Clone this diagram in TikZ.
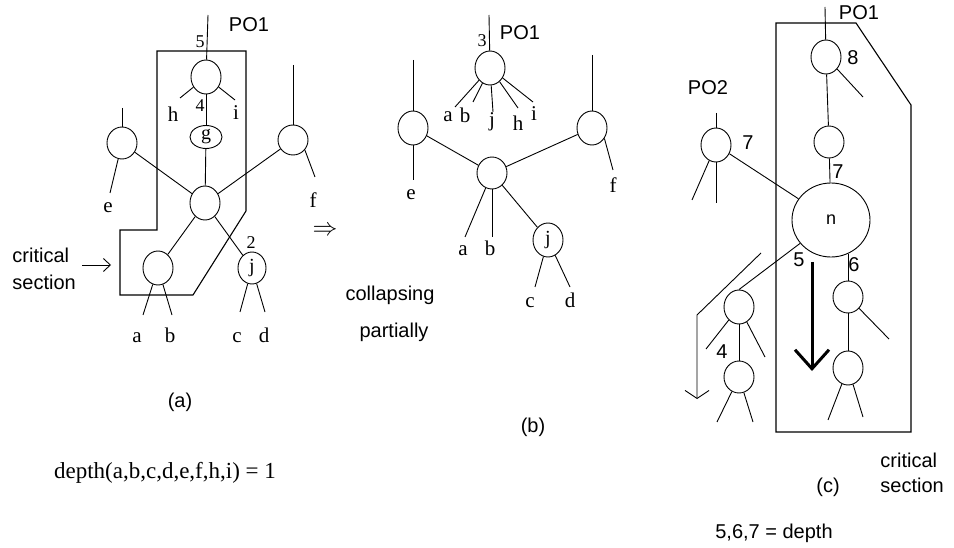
\documentclass[tikz,border=0pt]{standalone}
\usepackage{fontspec}
\setmainfont{Liberation Serif}
\newfontfamily\arialf{Liberation Sans}
\usetikzlibrary{shapes.geometric,arrows.meta}

\begin{document}
\begin{tikzpicture}[x=1pt,y=-1pt,line width=0.9pt,
  vtx/.style={draw,ellipse,inner sep=0pt,minimum width=30pt,minimum height=34pt,
              font=\fontsize{20}{20}\selectfont},
  sl/.style={inner sep=0pt,font=\arialf\fontsize{20}{20}\selectfont},
  rl/.style={inner sep=0pt,anchor=base,font=\fontsize{21}{21}\selectfont},
  dl/.style={inner sep=0pt,anchor=base,font=\fontsize{18}{18}\selectfont},
  region/.style={line width=1.1pt},
  barb/.style={-{Straight Barb[length=7pt,width=13pt]}}]
\useasboundingbox (0,0) rectangle (954,548);

% ---------------- (a) ----------------
\node[vtx] (aTop) at (206,77) {};
\node[vtx,minimum width=32pt,minimum height=23pt] (aG) at (206,137) {g};
\node[vtx] (aC) at (205,203) {};
\node[vtx,minimum height=32pt] (aE) at (122,143) {};
\node[vtx,minimum height=30pt] (aF) at (293,140) {};
\node[vtx] (aAB) at (158,268) {};
\node[vtx,minimum width=28pt,minimum height=32pt] (aJ) at (252,268) {j};

\coordinate (aPO) at (208,15);
\coordinate (aH) at (180,98);
\coordinate (aI) at (235,100);
\coordinate (aEtop) at (122,108);
\coordinate (aEend) at (110,193);
\coordinate (aFtop) at (293,65);
\coordinate (aFend) at (315,177);
\coordinate (aAend) at (143,315);
\coordinate (aBend) at (172,315);
\coordinate (aCend) at (240,312);
\coordinate (aDend) at (265,312);

\draw (aPO) -- (aTop);
\draw (aTop) -- (aH);
\draw (aTop) -- (aI);
\draw (aTop) -- (aG);
\draw (aG) -- (aC);
\draw (aEtop) -- (aE.north);
\draw (aE) -- (aEend);
\draw (aFtop) -- (aF.north);
\draw (aF.-40) -- (aFend);
\draw (aE) -- (aC);
\draw (aF) -- (aC);
\draw (aC) -- (aAB);
\draw (aC) -- (aJ);
\draw (aAB) -- (aAend);
\draw (aAB) -- (aBend);
\draw (aJ) -- (aCend);
\draw (aJ) -- (aDend);

% critical section of (a)
\draw[region] (157,51) -- (246,51) -- (246,211) -- (193,295) -- (120,295)
  -- (120,230) -- (157,230) -- cycle;

\node[sl] (aPOl) at (249,25) {PO1};
\node[dl] (a5) at (200,48) {5};
\node[dl] (a4) at (200,112) {4};
\node[rl] (ahl) at (173,122) {h};
\node[rl] (ail) at (236,120) {i};
\node[dl] (a2) at (251,249) {2};
\node[rl] (ael) at (108,213) {e};
\node[rl] (afl) at (313,208) {f};
\node[rl] (aal) at (137,342) {a};
\node[rl] (abl) at (170,342) {b};
\node[rl] (acl) at (237,342) {c};
\node[rl] (adl) at (264,342) {d};

\node[sl,anchor=west] (crit) at (12,255) {critical};
\node[sl,anchor=west] (sect) at (12,282) {section};
\coordinate (critArrowS) at (82,265);
\coordinate (critArrowE) at (111,265);
\draw[barb] (critArrowS) -- (critArrowE);

\node[sl] (capA) at (180,402) {(a)};
\node[inner sep=0pt,anchor=base,font=\fontsize{23}{23}\selectfont] (depthA) at (165,478)
  {depth(a,b,c,d,e,f,h,i) = 1};

% transition
\node[inner sep=0pt,font=\fontsize{30}{30}\selectfont] (impl) at (325,231) {$\Rightarrow$};
\node[sl] (coll) at (390,295) {collapsing};
\node[sl] (part) at (394,332) {partially};

% ---------------- (b) ----------------
\node[vtx] (bT) at (490,68) {};
\node[vtx] (bE) at (413,128) {};
\node[vtx] (bF) at (592,128) {};
\node[vtx,minimum height=32pt] (bC) at (492,173) {};
\node[vtx] (bJ) at (548,240) {j};

\coordinate (bPO) at (489,15);
\coordinate (bTa) at (455,107);
\coordinate (bTb) at (473,102);
\coordinate (bTj) at (493,112);
\coordinate (bTh) at (518,108);
\coordinate (bTi) at (533,102);
\coordinate (bEtop) at (413,60);
\coordinate (bEend) at (413,180);
\coordinate (bFtop) at (592,55);
\coordinate (bFend) at (613,170);
\coordinate (bAend) at (465,237);
\coordinate (bBend) at (492,237);
\coordinate (bCend) at (535,287);
\coordinate (bDend) at (570,287);

\draw (bPO) -- (bT);
\draw (bT) -- (bTa);
\draw (bT) -- (bTb);
\draw (bT) -- (bTj);
\draw (bT) -- (bTh);
\draw (bT) -- (bTi);
\draw (bEtop) -- (bE.north);
\draw (bE.south) -- (bEend);
\draw (bFtop) -- (bF.north);
\draw (bF.-40) -- (bFend);
\draw (bE) -- (bC);
\draw (bF) -- (bC);
\draw (bC) -- (bAend);
\draw (bC.south) -- (bBend);
\draw (bC) -- (bJ);
\draw (bJ) -- (bCend);
\draw (bJ) -- (bDend);

\node[sl] (bPOl) at (520,33) {PO1};
\node[dl] (b3) at (482,47) {3};
\node[rl] (bal) at (448,122) {a};
\node[rl] (bbl) at (465,123) {b};
\node[rl] (bjl) at (492,127) {j};
\node[rl] (bhl) at (518,131) {h};
\node[rl] (bil) at (534,121) {i};
\node[rl] (bel) at (411,200) {e};
\node[rl] (bfl) at (613,193) {f};
\node[rl] (bal2) at (463,256) {a};
\node[rl] (bbl2) at (490,256) {b};
\node[rl] (bcl) at (530,308) {c};
\node[rl] (bdl) at (570,308) {d};
\node[sl] (capB) at (533,427) {(b)};

% ---------------- (c) ----------------
\node[vtx,minimum width=78pt,minimum height=74pt,font=\arialf\fontsize{18}{18}\selectfont] (n) at (831,220) {n};
\node[vtx] (c8) at (826,57) {};
\node[vtx,minimum height=32pt] (cM) at (829,142) {};
\node[vtx] (cP) at (716,145) {};
\node[vtx] (cL1) at (739,307) {};
\node[vtx,minimum height=32pt] (cL2) at (739,377) {};
\node[vtx,minimum height=32pt] (cR1) at (848,297) {};
\node[vtx] (cR2) at (848,368) {};

\coordinate (cPO1) at (825,7);
\coordinate (c8end) at (863,97);
\coordinate (cPOtop) at (716,113);
\coordinate (cPa) at (692,200);
\coordinate (cPb) at (716,203);
\coordinate (cL1a) at (706,349);
\coordinate (cL1b) at (765,357);
\coordinate (cL2a) at (717,422);
\coordinate (cL2b) at (753,422);
\coordinate (cR1end) at (889,339);
\coordinate (cR2a) at (828,420);
\coordinate (cR2b) at (863,417);

\draw (cPO1) -- (c8);
\draw (c8) -- (c8end);
\draw (c8) -- (cM);
\draw (cM) -- (n);
\draw (cPOtop) -- (cP.north);
\draw (cP) -- (cPa);
\draw (cP.south) -- (cPb);
\draw (cP) -- (n);
\draw (n) -- (cL1.north);
\draw (cL1) -- (cL1a);
\draw (cL1) -- (cL1b);
\draw (cL1) -- (cL2);
\draw (cL2) -- (cL2a);
\draw (cL2) -- (cL2b);
\draw (n.-65 -| cR1.north) -- (cR1);
\draw (cR1) -- (cR1end);
\draw (cR1) -- (cR2);
\draw (cR2) -- (cR2a);
\draw (cR2) -- (cR2b);

% critical section of (c)
\draw[region] (776,23) -- (856,23) -- (911,105) -- (911,432) -- (776,432) -- cycle;

% direction of the depth count
\coordinate (thinS) at (761,253);
\coordinate (thinK) at (697,315);
\coordinate (thinE) at (697,399);
\draw[-{Straight Barb[length=8pt,width=24pt]}] (thinS) -- (thinK) -- (thinE);
\coordinate (boldS) at (812,262);
\coordinate (boldE) at (812,371);
\draw[line width=3pt,-{Straight Barb[length=19pt,width=34pt]}] (boldS) -- (boldE);

\node[sl] (cPOl) at (859,13) {PO1};
\node[sl] (c8l) at (853,58) {8};
\node[sl] (c7a) at (838,172) {7};
\node[sl] (cPO2) at (708,88) {PO2};
\node[sl] (c7b) at (748,143) {7};
\node[sl] (c5) at (799,260) {5};
\node[sl] (c6) at (854,265) {6};
\node[sl] (c4) at (722,352) {4};
\node[sl] (capC) at (828,487) {(c)};
\node[sl,anchor=west] (critC) at (880,460) {critical};
\node[sl,anchor=west] (sectC) at (880,485) {section};
\node[sl] (depthC) at (774,533) {5,6,7 = depth};
\end{tikzpicture}
\end{document}
